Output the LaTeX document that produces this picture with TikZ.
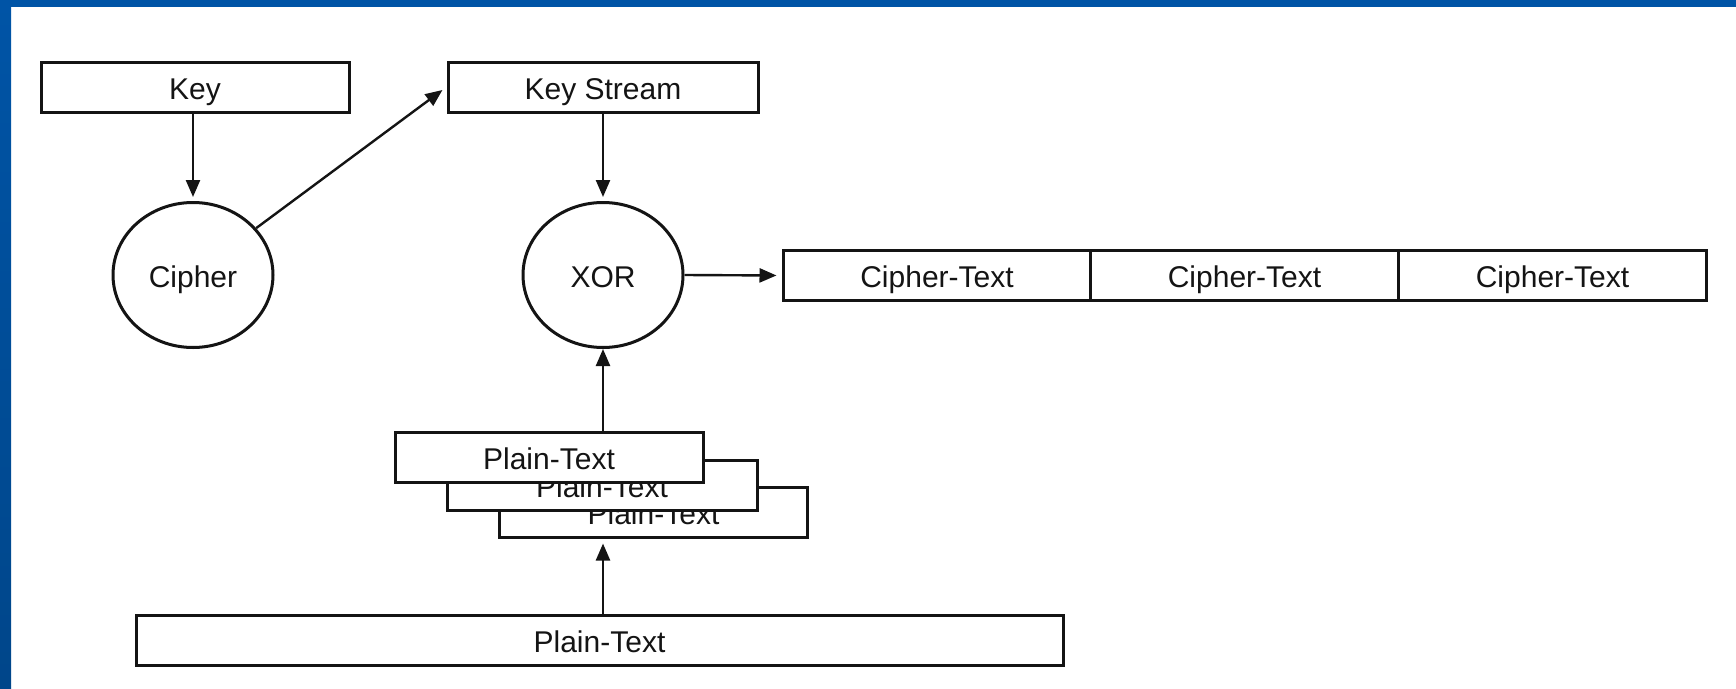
\documentclass[tikz,border=0pt]{standalone}
\usepackage{fontspec}
\setmainfont{Liberation Sans}
\usetikzlibrary{shapes.geometric,arrows.meta}
\definecolor{barblue}{RGB}{0,84,166}
\definecolor{barbluedark}{RGB}{0,70,138}
\definecolor{ink}{RGB}{20,20,20}
\tikzset{
  lbl/.style={font=\fontsize{30}{34}\selectfont, text=ink, text height=24pt, text depth=0pt},
  box/.style={lbl, draw=ink, line width=3pt, fill=white, inner sep=0pt,
    minimum width=308pt, minimum height=50pt},
  oval/.style={lbl, ellipse, draw=ink, line width=3pt, fill=white, inner sep=0pt,
    minimum width=160pt, minimum height=145pt},
  arr/.style={draw=ink, line width=2.4pt, -{Triangle[length=17pt,width=14pt]}},
}
\begin{document}
\begin{tikzpicture}[x=1pt,y=-1pt]
  % page frame
  \fill[white] (0,0) rectangle (1736,688);
  \useasboundingbox (0,0) rectangle (1736,688);
  \fill[barblue] (0,0) rectangle (1736,7);
  \shade[top color=barblue, bottom color=barbluedark] (0,0) rectangle (11,688);

  % key generation
  \node[box] (key) at (195,87) {Key};
  \node[box, minimum width=310pt] (kstream) at (603,87) {Key Stream};
  \node[oval] (cipher) at (193,275) {Cipher};
  \node[oval] (xor) at (603,275) {XOR};

  % cipher-text blocks
  \node[box] (ct1) at (937,275.5) {Cipher-Text};
  \node[box] (ct2) at (1244.5,275.5) {Cipher-Text};
  \node[box] (ct3) at (1552.5,275.5) {Cipher-Text};

  % stacked plain-text blocks, back to front
  \node[box] (pt3) at (653.5,512) {Plain-Text};
  \node[box, minimum width=310pt] (pt2) at (602,485) {Plain-Text};
  \node[box] (pt1) at (549,457) {Plain-Text};

  % whole plain text
  \node[box, minimum width=927pt] (plain) at (599.5,640) {Plain-Text};

  % connectors
  \draw[arr, shorten >=4pt] (key.south -| cipher.north) -- (cipher.north);
  \draw[arr, shorten >=5pt] (cipher) -- (kstream.west);
  \draw[arr, shorten >=4pt] (kstream.south) -- (xor.north);
  \draw[arr, shorten >=5pt] (xor.east) -- (ct1.west);
  \draw[arr] (pt1.north -| xor.south) -- (xor.south);
  \draw[arr, shorten >=5pt] (plain.north -| xor.south) -- (pt3.south -| xor.south);
\end{tikzpicture}
\end{document}
